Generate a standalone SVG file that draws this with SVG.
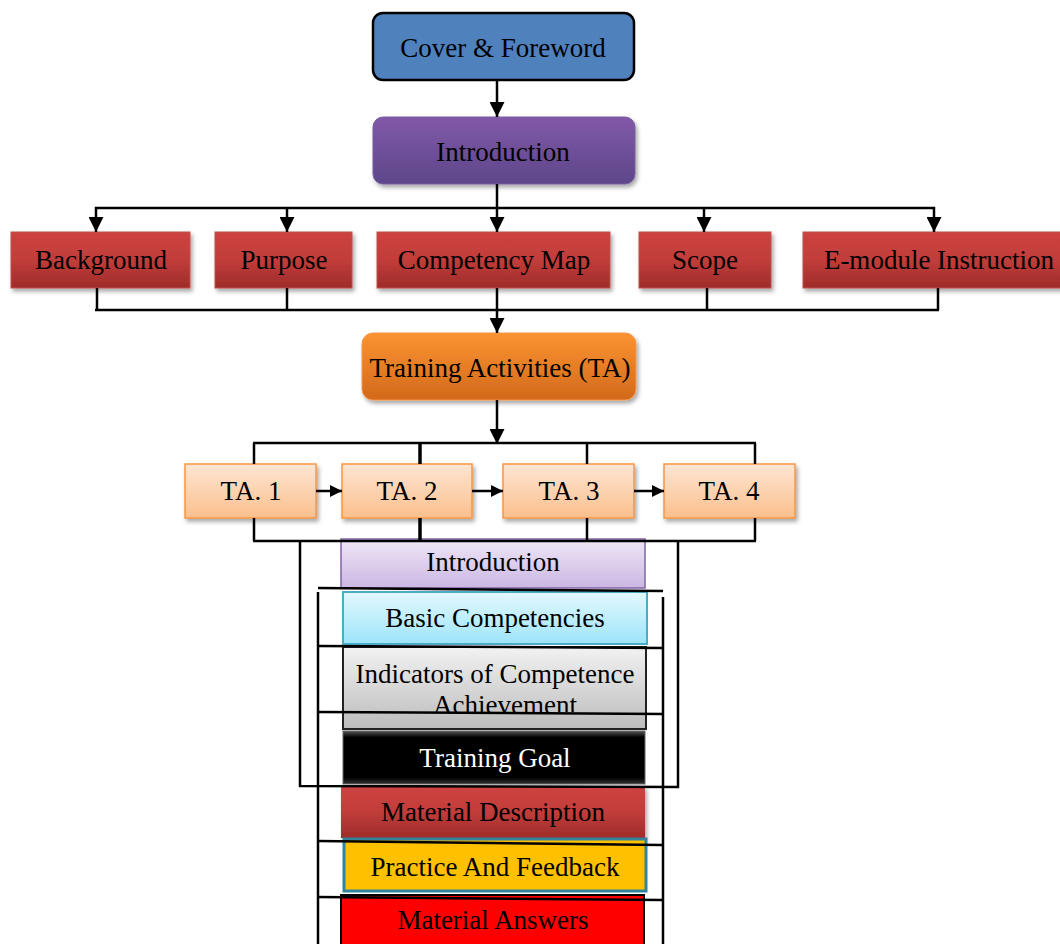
<svg xmlns="http://www.w3.org/2000/svg" width="1060" height="944" viewBox="0 0 1060 944">
<defs>
<linearGradient id="gPurple" x1="0" y1="0" x2="0" y2="1"><stop offset="0" stop-color="#8159a8"/><stop offset="1" stop-color="#5d468a"/></linearGradient>
<linearGradient id="gRed" x1="0" y1="0" x2="0" y2="1"><stop offset="0" stop-color="#cd4340"/><stop offset="0.5" stop-color="#c13d3a"/><stop offset="1" stop-color="#9e2c29"/></linearGradient>
<linearGradient id="gOrange" x1="0" y1="0" x2="0" y2="1"><stop offset="0" stop-color="#fb9331"/><stop offset="1" stop-color="#d2691c"/></linearGradient>
<linearGradient id="gTA" x1="0" y1="0" x2="0" y2="1"><stop offset="0" stop-color="#fde6d3"/><stop offset="1" stop-color="#fbbf8d"/></linearGradient>
<linearGradient id="gLav" x1="0" y1="0" x2="0" y2="1"><stop offset="0" stop-color="#efe7f7"/><stop offset="1" stop-color="#cbb7e3"/></linearGradient>
<linearGradient id="gCyan" x1="0" y1="0" x2="0" y2="1"><stop offset="0" stop-color="#e3f9ff"/><stop offset="1" stop-color="#9de4f9"/></linearGradient>
<linearGradient id="gGray" x1="0" y1="0" x2="0" y2="1"><stop offset="0" stop-color="#f2f2f2"/><stop offset="1" stop-color="#bcbcbc"/></linearGradient>
<linearGradient id="gBlack" x1="0" y1="0" x2="0" y2="1"><stop offset="0" stop-color="#555"/><stop offset="0.12" stop-color="#000"/><stop offset="0.88" stop-color="#000"/><stop offset="1" stop-color="#333"/></linearGradient>
<filter id="sh" x="-10%" y="-20%" width="125%" height="150%"><feDropShadow dx="2" dy="3" stdDeviation="2" flood-color="#000" flood-opacity="0.35"/></filter>
<marker id="ah" viewBox="0 0 10 10" refX="10" refY="5" markerWidth="6" markerHeight="6" orient="auto" markerUnits="strokeWidth"><path d="M0,0 L10,5 L0,10 z" fill="#000"/></marker>
<marker id="ahs" viewBox="0 0 10 10" refX="10" refY="5" markerWidth="5" markerHeight="5" orient="auto" markerUnits="strokeWidth"><path d="M0,0 L10,5 L0,10 z" fill="#000"/></marker>
<clipPath id="clipInd"><rect x="343" y="647" width="304" height="65"/></clipPath>
</defs>
<style>
text{font-family:"Liberation Serif","Times New Roman",serif;font-size:27px;fill:#000;text-anchor:middle}
.c{fill:none;stroke:#000;stroke-width:2.5}
.ca{fill:none;stroke:#000;stroke-width:2.5;marker-end:url(#ah)}
.cs{fill:none;stroke:#000;stroke-width:2.5;marker-end:url(#ahs)}
.red{fill:url(#gRed);stroke:#c0504d;stroke-width:1;filter:url(#sh)}
.ta{fill:url(#gTA);stroke:#f79646;stroke-width:1.5;filter:url(#sh)}
</style>
<rect width="1060" height="944" fill="#fff"/>

<g id="cover"><rect x="373" y="13" width="261" height="67" rx="10" fill="#4f81bd" stroke="#000" stroke-width="2.5"/><text x="503" y="57">Cover &amp; Foreword</text></g>
<g id="intro"><rect x="373" y="117" width="262" height="67" rx="10" fill="url(#gPurple)" stroke="#7a5c9f" stroke-width="1" filter="url(#sh)"/><text x="503" y="161">Introduction</text></g>

<g id="background"><rect class="red" x="11" y="232" width="179" height="56"/><text x="101" y="269">Background</text></g>
<g id="purpose"><rect class="red" x="215" y="232" width="137" height="56"/><text x="284" y="269">Purpose</text></g>
<g id="competency"><rect class="red" x="377" y="232" width="233" height="56"/><text x="494" y="269">Competency Map</text></g>
<g id="scope"><rect class="red" x="639" y="232" width="132" height="56"/><text x="705" y="269">Scope</text></g>
<g id="emodule"><rect class="red" x="803" y="232" width="262" height="56"/><text x="939" y="269">E-module Instruction</text></g>

<g id="ta"><rect x="362" y="333" width="274" height="67" rx="11" fill="url(#gOrange)" stroke="#f79646" stroke-width="1" filter="url(#sh)"/><text x="500" y="377">Training Activities (TA)</text></g>

<g id="ta1"><rect class="ta" x="185" y="464" width="131" height="54"/><text x="251" y="500">TA. 1</text></g>
<g id="ta2"><rect class="ta" x="342" y="464" width="130" height="54"/><text x="407" y="500">TA. 2</text></g>
<g id="ta3"><rect class="ta" x="503" y="464" width="131" height="54"/><text x="569" y="500">TA. 3</text></g>
<g id="ta4"><rect class="ta" x="664" y="464" width="131" height="54"/><text x="729" y="500">TA. 4</text></g>

<g id="sub-intro"><rect x="341" y="539" width="304" height="49" fill="url(#gLav)" stroke="#8064a2" stroke-width="1.5"/><text x="493" y="571">Introduction</text></g>
<g id="basic"><rect x="343" y="592" width="304" height="52" fill="url(#gCyan)" stroke="#4bacc6" stroke-width="2"/><text x="495" y="627">Basic Competencies</text></g>
<g id="indicators"><rect x="343" y="647" width="303" height="82" fill="url(#gGray)" stroke="#222" stroke-width="2"/><text x="495" y="683">Indicators of Competence</text><text x="505" y="714" clip-path="url(#clipInd)">Achievement</text></g>
<g id="goal"><rect x="343" y="731" width="302" height="53" fill="url(#gBlack)" stroke="#666" stroke-width="1"/><rect x="350" y="737" width="288" height="41" fill="#000"/><text x="495" y="767" style="fill:#fff">Training Goal</text></g>
<g id="matdesc"><rect x="341" y="786" width="304" height="52" fill="url(#gRed)" stroke="none" filter="url(#sh)"/><text x="493" y="821">Material Description</text></g>
<g id="practice"><rect x="344" y="839" width="302" height="52" fill="#ffc000" stroke="#31849b" stroke-width="3"/><text x="495" y="876">Practice And Feedback</text></g>
<g id="answers"><rect x="341" y="895" width="303" height="60" fill="#ff0000" stroke="#000" stroke-width="2"/><text x="493" y="929">Material Answers</text></g>

<g id="connectors">
<line class="ca" x1="497" y1="80" x2="497" y2="117"/>
<line class="c" x1="497" y1="184" x2="497" y2="208"/>
<line class="c" x1="95" y1="208" x2="935" y2="208"/>
<line class="ca" x1="96" y1="207" x2="96" y2="232"/>
<line class="ca" x1="287" y1="207" x2="287" y2="232"/>
<line class="ca" x1="497" y1="207" x2="497" y2="232"/>
<line class="ca" x1="704" y1="207" x2="704" y2="232"/>
<line class="ca" x1="934" y1="207" x2="934" y2="232"/>
<line class="c" x1="97" y1="288" x2="97" y2="310"/>
<line class="c" x1="287" y1="288" x2="287" y2="310"/>
<line class="c" x1="497" y1="288" x2="497" y2="310"/>
<line class="c" x1="707" y1="288" x2="707" y2="310"/>
<line class="c" x1="938" y1="288" x2="938" y2="310"/>
<line class="c" x1="95" y1="310" x2="939" y2="310"/>
<line class="ca" x1="497" y1="309" x2="497" y2="333"/>
<line class="ca" x1="497" y1="400" x2="497" y2="444"/>
<line class="c" x1="253" y1="443" x2="756" y2="443"/>
<line class="c" x1="254" y1="443" x2="254" y2="464"/>
<line class="c" x1="420" y1="443" x2="420" y2="464" style="stroke-width:3.5"/>
<line class="c" x1="587" y1="443" x2="587" y2="464"/>
<line class="c" x1="755" y1="443" x2="755" y2="464"/>
<line class="cs" x1="316" y1="491" x2="342" y2="491"/>
<line class="cs" x1="472" y1="491" x2="503" y2="491"/>
<line class="cs" x1="634" y1="491" x2="664" y2="491"/>
<line class="c" x1="254" y1="518" x2="254" y2="541"/>
<line class="c" x1="420" y1="518" x2="420" y2="541" style="stroke-width:3.5"/>
<line class="c" x1="587" y1="518" x2="587" y2="541"/>
<line class="c" x1="755" y1="518" x2="755" y2="541"/>
<line class="c" x1="253" y1="541" x2="756" y2="541"/>
<polyline class="c" points="300,541 300,786 678,787 678,541"/>
<line class="c" x1="318" y1="592" x2="318" y2="944"/>
<line class="c" x1="663" y1="597" x2="663" y2="944"/>
<line class="c" x1="318" y1="588" x2="663" y2="591"/>
<line class="c" x1="318" y1="646" x2="663" y2="648"/>
<line class="c" x1="318" y1="712" x2="663" y2="714"/>
<line class="c" x1="318" y1="841" x2="662" y2="845"/>
<line class="c" x1="318" y1="897" x2="662" y2="900"/>
</g>
</svg>
